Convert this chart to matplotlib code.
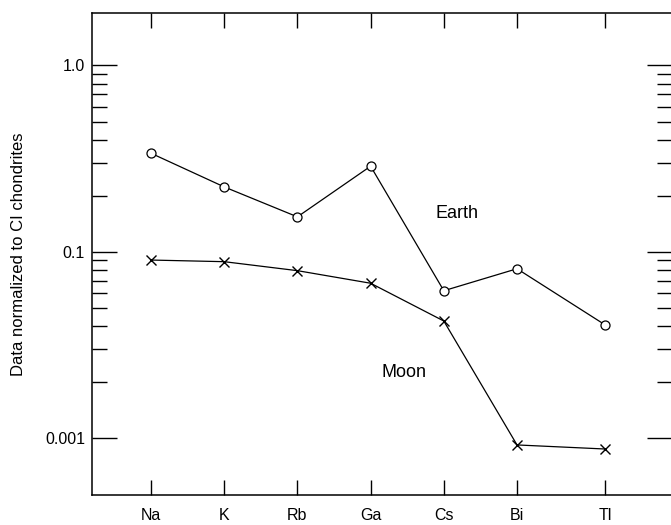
import matplotlib
matplotlib.use("Agg")
import matplotlib.pyplot as plt
from matplotlib.ticker import FixedLocator, NullFormatter

plt.rcParams['font.family'] = ['Liberation Sans', 'DejaVu Sans']

elements = ["Na", "K", "Rb", "Ga", "Cs", "Bi", "Tl"]
# positions along the x axis (Tl sits a bit further out in the original)
xpos = [0, 1, 2, 3, 4, 5, 6.2]
earth = [0.338, 0.223, 0.154, 0.288, 0.0618, 0.0811, 0.0406]
moon = [0.0903, 0.0885, 0.0792, 0.0678, 0.0425, 0.00919, 0.00874]

ytick_vals = [1.0, 0.1, 0.01]
ytick_labels = ["1.0", "0.1", "0.001"]

fig = plt.figure(figsize=(6.71, 5.25), dpi=100)
ax = fig.add_axes([92 / 671, 30 / 525, 580 / 671, 482 / 525])

ax.plot(xpos, earth, color="black", lw=0.9, marker="o", ms=6.5,
        mfc="white", mec="black", mew=0.9)
ax.plot(xpos, moon, color="black", lw=0.9, marker="x", ms=7.5,
        mec="black", mew=1.0)

ax.set_yscale("log")
ax.set_ylim(0.00495, 1.913)
ax.set_xlim(-0.806, 7.117)

ax.yaxis.set_major_locator(FixedLocator(ytick_vals))
ax.set_yticklabels(ytick_labels)
minors = [m * d for d in (0.01, 0.1) for m in range(2, 10)]
ax.yaxis.set_minor_locator(FixedLocator(minors))
ax.yaxis.set_minor_formatter(NullFormatter())

ax.set_xticks(xpos)
ax.set_xticklabels(elements)

ax.tick_params(axis="y", which="major", direction="in", length=18, width=1.0,
               left=True, right=True, labelsize=11.5, pad=5)
ax.tick_params(axis="y", which="minor", direction="in", length=11, width=1.0,
               left=True, right=True)
ax.tick_params(axis="x", which="major", direction="in", length=11, width=1.0,
               top=True, bottom=True, labelsize=11.5, pad=9)

for s in ax.spines.values():
    s.set_linewidth(1.1)

ax.set_ylabel("Data normalized to CI chondrites", fontsize=12, labelpad=14)

ax.text(4.18, 0.16, "Earth", fontsize=13, ha="center", va="center")
ax.text(3.46, 0.0224, "Moon", fontsize=13, ha="center", va="center")

fig.savefig("out.png", dpi=100)
